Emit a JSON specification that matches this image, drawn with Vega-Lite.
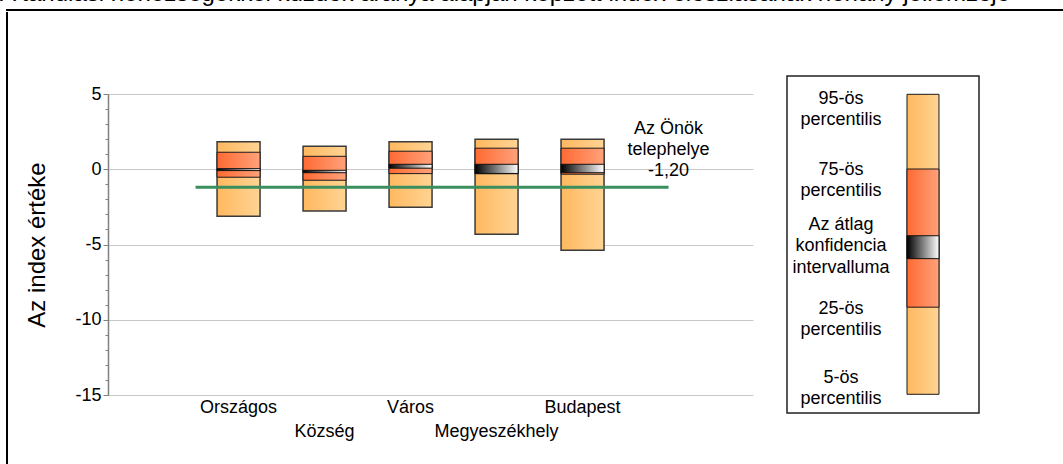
{
  "$schema": "https://vega.github.io/schema/vega-lite/v6.json",
  "background": "white",
  "padding": {"left": 0, "top": -18, "right": 0, "bottom": 0},
  "title": {"text": "A tanulási nehézségekkel küzdők aránya alapján képzett index eloszlásának néhány jellemzője", "anchor": "start", "fontSize": 24, "fontWeight": "normal", "font": "Liberation Sans", "color": "black", "offset": 3, "frame": "bounds", "dx": -6},
  "config": {"font": "Liberation Sans", "view": {"stroke": null}},
  "datasets": {
    "boxes": [
      {"cat": "Országos", "p5": -3.13, "p25": -0.53, "ciLo": -0.09, "ciHi": 0.04, "p75": 1.13, "p95": 1.82},
      {"cat": "Község", "p5": -2.77, "p25": -0.73, "ciLo": -0.23, "ciHi": -0.07, "p75": 0.86, "p95": 1.53},
      {"cat": "Város", "p5": -2.53, "p25": -0.29, "ciLo": 0.07, "ciHi": 0.33, "p75": 1.2, "p95": 1.82},
      {"cat": "Megyeszékhely", "p5": -4.32, "p25": -0.3, "ciLo": -0.28, "ciHi": 0.33, "p75": 1.4, "p95": 2.0},
      {"cat": "Budapest", "p5": -5.39, "p25": -0.33, "ciLo": -0.23, "ciHi": 0.33, "p75": 1.4, "p95": 2.0}
    ],
    "site": [{"kezd": "Országos", "hely": "Az Önök telephelye", "ertek": -1.2, "felirat": ["Az Önök", "telephelye", "-1,20"]}],
    "legendSegs": [
      {"col": "sáv", "part": "külső", "lo": 5.55, "hi": 94.57},
      {"col": "sáv", "part": "iqr", "lo": 31.4, "hi": 72.4},
      {"col": "sáv", "part": "ci", "lo": 45.8, "hi": 52.6}
    ],
    "legendLabels": [
      {"col": "szöveg", "pos": 93.26, "label": ["95-ös", "percentilis"]},
      {"col": "szöveg", "pos": 72.25, "label": ["75-ös", "percentilis"]},
      {"col": "szöveg", "pos": 55.8, "label": ["Az átlag", "konfidencia", "intervalluma"]},
      {"col": "szöveg", "pos": 31.0, "label": ["25-ös", "percentilis"]},
      {"col": "szöveg", "pos": 10.5, "label": ["5-ös", "percentilis"]}
    ]
  },
  "spacing": 0,
  "vconcat": [
    {
      "width": 1070,
      "height": 0.01,
      "view": {"stroke": "black", "strokeWidth": 2, "fill": null},
      "data": {"values": []},
      "mark": "rect",
      "encoding": {}
    },
    {
      "spacing": 16,
      "center": true,
      "hconcat": [
        {
          "width": 0.01,
          "height": 489,
          "view": {"stroke": "black", "strokeWidth": 2, "fill": null},
          "data": {"values": []},
          "mark": "rect",
          "encoding": {}
        },
        {
          "spacing": 34,
          "bounds": "flush",
          "center": true,
          "hconcat": [
            {
              "width": 645,
              "height": 301,
              "resolve": {"axis": {"y": "independent"}},
              "layer": [
                {
                  "data": {"name": "boxes"},
                  "mark": {"type": "bar", "stroke": "#3a3a3a", "strokeWidth": 1.5,
                    "fill": {"gradient": "linear", "x1": 0, "y1": 0, "x2": 1, "y2": 0, "stops": [{"offset": 0, "color": "#FFB85F"}, {"offset": 1, "color": "#FFD494"}]}},
                  "encoding": {
                    "x": {"field": "cat", "type": "nominal",
                      "scale": {"domain": ["Országos", "Község", "Város", "Megyeszékhely", "Budapest", "Az Önök telephelye"], "paddingInner": 0.5, "paddingOuter": 1.0, "align": 0.634},
                      "axis": {"title": null, "domain": false, "ticks": false, "grid": false, "labelAngle": 0, "labelFontSize": 18, "labelColor": "black", "labelPadding": 3, "labelLineHeight": 24,
                        "labelExpr": "datum.label == 'Község' || datum.label == 'Megyeszékhely' ? ['', datum.label] : (datum.label == 'Az Önök telephelye' ? '' : datum.label)"}},
                    "y": {"field": "p5", "type": "quantitative",
                      "scale": {"domain": [-15, 5], "nice": false},
                      "axis": {"title": "Az index értéke", "orient": "left", "values": [-15, -10, -5, 0, 5],
                        "labelExpr": "'' + datum.value", "labelOverlap": false,
                        "grid": true, "gridColor": "#c8c8c8", "gridWidth": 1,
                        "domainColor": "#808080", "domainWidth": 1.5, "tickColor": "#808080", "tickWidth": 1, "tickSize": 5,
                        "labelFontSize": 18, "labelColor": "black", "labelPadding": 2,
                        "titleFontSize": 24, "titleFontWeight": "normal", "titleColor": "black", "titlePadding": 25}},
                    "y2": {"field": "p95"}
                  }
                },
                {
                  "data": {"name": "boxes"},
                  "mark": {"type": "bar", "stroke": "#1a1a1a", "strokeWidth": 1,
                    "fill": {"gradient": "linear", "x1": 0, "y1": 0, "x2": 1, "y2": 0, "stops": [{"offset": 0, "color": "#FF6A33"}, {"offset": 1, "color": "#FFA27A"}]}},
                  "encoding": {
                    "x": {"field": "cat", "type": "nominal"},
                    "y": {"field": "p25", "type": "quantitative", "axis": null},
                    "y2": {"field": "p75"}
                  }
                },
                {
                  "data": {"name": "boxes"},
                  "mark": {"type": "bar", "stroke": "#111111", "strokeWidth": 1,
                    "fill": {"gradient": "linear", "x1": 0, "y1": 0, "x2": 1, "y2": 0, "stops": [{"offset": 0, "color": "#000000"}, {"offset": 1, "color": "#FFFFFF"}]}},
                  "encoding": {
                    "x": {"field": "cat", "type": "nominal"},
                    "y": {"field": "ciLo", "type": "quantitative",
                      "axis": {"orient": "left", "title": null, "values": [-15, -14, -13, -12, -11, -9, -8, -7, -6, -4, -3, -2, -1, 1, 2, 3, 4],
                        "labels": false, "grid": false, "domain": false, "ticks": true, "tickSize": 3, "tickColor": "#808080", "tickWidth": 1}},
                    "y2": {"field": "ciHi"}
                  }
                },
                {
                  "data": {"name": "site"},
                  "mark": {"type": "rule", "color": "#3B8E5E", "strokeWidth": 3, "xOffset": -43},
                  "encoding": {
                    "x": {"field": "kezd", "type": "nominal", "bandPosition": 0.5},
                    "x2": {"field": "hely"},
                    "y": {"field": "ertek", "type": "quantitative", "axis": null}
                  }
                },
                {
                  "data": {"name": "site"},
                  "mark": {"type": "text", "fontSize": 18, "lineHeight": 21, "baseline": "middle", "align": "center", "dy": -58, "color": "black"},
                  "encoding": {
                    "x": {"field": "hely", "type": "nominal"},
                    "y": {"field": "ertek", "type": "quantitative", "axis": null},
                    "text": {"field": "felirat"}
                  }
                }
              ]
            },
            {
              "width": 192,
              "height": 337,
              "view": {"stroke": "#222222", "strokeWidth": 1.5},
              "layer": [
                {
                  "data": {"name": "legendSegs"},
                  "transform": [{"filter": "datum.part == 'külső'"}],
                  "mark": {"type": "bar", "stroke": "#1a1a1a", "strokeWidth": 1,
                    "fill": {"gradient": "linear", "x1": 0, "y1": 0, "x2": 1, "y2": 0, "stops": [{"offset": 0, "color": "#FFB85F"}, {"offset": 1, "color": "#FFD494"}]}},
                  "encoding": {
                    "x": {"field": "col", "type": "nominal", "axis": null, "scale": {"domain": ["szöveg", "sáv"], "paddingInner": 0.61, "paddingOuter": 0.4756, "align": 0.487}},
                    "y": {"field": "lo", "type": "quantitative", "axis": null, "scale": {"domain": [0, 100], "nice": false}},
                    "y2": {"field": "hi"}
                  }
                },
                {
                  "data": {"name": "legendSegs"},
                  "transform": [{"filter": "datum.part == 'iqr'"}],
                  "mark": {"type": "bar", "stroke": "#1a1a1a", "strokeWidth": 1,
                    "fill": {"gradient": "linear", "x1": 0, "y1": 0, "x2": 1, "y2": 0, "stops": [{"offset": 0, "color": "#FF6A33"}, {"offset": 1, "color": "#FFA27A"}]}},
                  "encoding": {
                    "x": {"field": "col", "type": "nominal"},
                    "y": {"field": "lo", "type": "quantitative"},
                    "y2": {"field": "hi"}
                  }
                },
                {
                  "data": {"name": "legendSegs"},
                  "transform": [{"filter": "datum.part == 'ci'"}],
                  "mark": {"type": "bar", "stroke": "#111111", "strokeWidth": 1,
                    "fill": {"gradient": "linear", "x1": 0, "y1": 0, "x2": 1, "y2": 0, "stops": [{"offset": 0, "color": "#000000"}, {"offset": 1, "color": "#FFFFFF"}]}},
                  "encoding": {
                    "x": {"field": "col", "type": "nominal"},
                    "y": {"field": "lo", "type": "quantitative"},
                    "y2": {"field": "hi"}
                  }
                },
                {
                  "data": {"name": "legendLabels"},
                  "mark": {"type": "text", "fontSize": 18, "lineHeight": 21.5, "baseline": "middle", "align": "center", "color": "black"},
                  "encoding": {
                    "x": {"field": "col", "type": "nominal"},
                    "y": {"field": "pos", "type": "quantitative"},
                    "text": {"field": "label"}
                  }
                }
              ]
            }
          ]
        }
      ]
    }
  ]
}
